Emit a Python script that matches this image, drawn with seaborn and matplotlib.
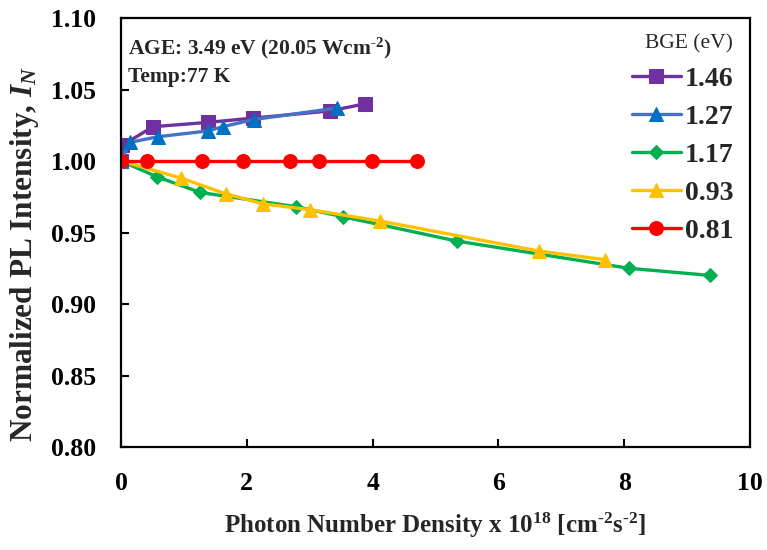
import numpy as np
import pandas as pd
import matplotlib
matplotlib.use("Agg")
import matplotlib.pyplot as plt
import seaborn as sns

# ---- data ----
x_146 = [0.0, 0.02, 0.51, 1.38, 2.10, 3.32, 3.88]
y_146 = [1.000, 1.011, 1.024, 1.027, 1.030, 1.035, 1.040]

x_127 = [0.0, 0.14, 0.59, 1.38, 1.62, 2.11, 3.43]
y_127 = [1.000, 1.013, 1.017, 1.021, 1.024, 1.029, 1.037]

x_117 = [0.0, 0.57, 1.26, 2.79, 3.53, 5.34, 8.07, 9.36]
y_117 = [1.000, 0.989, 0.978, 0.968, 0.961, 0.944, 0.925, 0.920]

x_093 = [0.0, 0.96, 1.67, 2.26, 3.00, 4.12, 6.65, 7.69]
y_093 = [1.000, 0.988, 0.977, 0.970, 0.966, 0.958, 0.937, 0.931]

x_081 = [0.0, 0.41, 1.28, 1.94, 2.69, 3.14, 3.99, 4.70]
y_081 = [1.000, 1.000, 1.000, 1.000, 1.000, 1.000, 1.000, 1.000]

labels = ["1.46", "1.27", "1.17", "0.93", "0.81"]
x_ticks = [0, 2, 4, 6, 8, 10]
y_ticks = [0.80, 0.85, 0.90, 0.95, 1.00, 1.05, 1.10]

sns.set_style("ticks")
plt.rcParams['font.family'] = ['Liberation Serif', 'DejaVu Serif']
plt.rcParams['mathtext.fontset'] = 'custom'
plt.rcParams['mathtext.rm'] = 'Liberation Serif:bold'
plt.rcParams['mathtext.it'] = 'Liberation Serif:bold:italic'
plt.rcParams['mathtext.bf'] = 'Liberation Serif:bold'

fig = plt.figure(figsize=(7.67, 5.5), dpi=100)
ax = fig.add_axes([121/767, 1-447/550, (750-121)/767, (447-18)/550])

lw = 2.4
series = {
    "1.17": (x_117, y_117, dict(marker="D", color="#00B050", mfc="#00B050", mec="#00B050", ms=7.5)),
    "0.93": (x_093, y_093, dict(marker="^", color="#FFC000", mfc="#FFC000", mec="#FFC000", ms=10.5)),
    "1.46": (x_146, y_146, dict(marker="s", color="#7030A0", mfc="#7030A0", mec="#7030A0", ms=10.5)),
    "1.27": (x_127, y_127, dict(marker="^", color="#4472C4", mfc="#0070C0", mec="#0070C0", ms=10.5)),
    "0.81": (x_081, y_081, dict(marker="o", color="#FF0000", mfc="#FF0000", mec="#FF0000", ms=10)),
}
for lab, (xs, ys, kw) in series.items():
    sns.lineplot(x=xs, y=ys, sort=False, ax=ax, label=lab, linewidth=lw, **kw)

ax.set_xlim(0, 10)
ax.set_ylim(0.80, 1.10)
ax.set_xticks(x_ticks)
ax.set_yticks(y_ticks)
ax.set_xticklabels([str(t) for t in x_ticks])
ax.set_yticklabels([f"{t:.2f}" for t in y_ticks])
ax.tick_params(direction="in", length=6, width=1.5, labelsize=18.5, colors="black")
ax.tick_params(axis="x", pad=18)
ax.tick_params(axis="y", pad=18)
for lbl in ax.get_xticklabels() + ax.get_yticklabels():
    lbl.set_fontweight("bold")
for s in ax.spines.values():
    s.set_linewidth(1.6)
    s.set_color("black")

ax.set_xlabel(r"Photon Number Density x 10$^{18}$ [cm$^{\text{-2}}$s$^{\text{-2}}$]",
              fontsize=18, fontweight="bold", labelpad=11)
ax.set_ylabel(r"Normalized PL Intensity, $\mathit{I}_{\mathit{N}}$",
              fontsize=22.5, fontweight="bold")
ax.yaxis.set_label_coords(-0.127, 0.45)

ax.text(0.011, 0.958, r"AGE: 3.49 eV (20.05 Wcm$^{\text{-2}}$)", transform=ax.transAxes,
        fontsize=15.5, fontweight="bold", va="top", ha="left")
ax.text(0.011, 0.886, "Temp:77 K", transform=ax.transAxes,
        fontsize=15.5, fontweight="bold", va="top", ha="left")

handles, labs = ax.get_legend_handles_labels()
order = [labs.index(l) for l in labels]
leg = ax.legend([handles[i] for i in order], [labs[i] for i in order],
                title="BGE (eV)", loc="upper right", frameon=False,
                prop={"size": 20, "weight": "bold"}, title_fontsize=15.5,
                handlelength=1.75, handletextpad=0.15, labelspacing=0.45,
                alignment="right", borderaxespad=0.2)

fig.savefig("out.png", dpi=100)
